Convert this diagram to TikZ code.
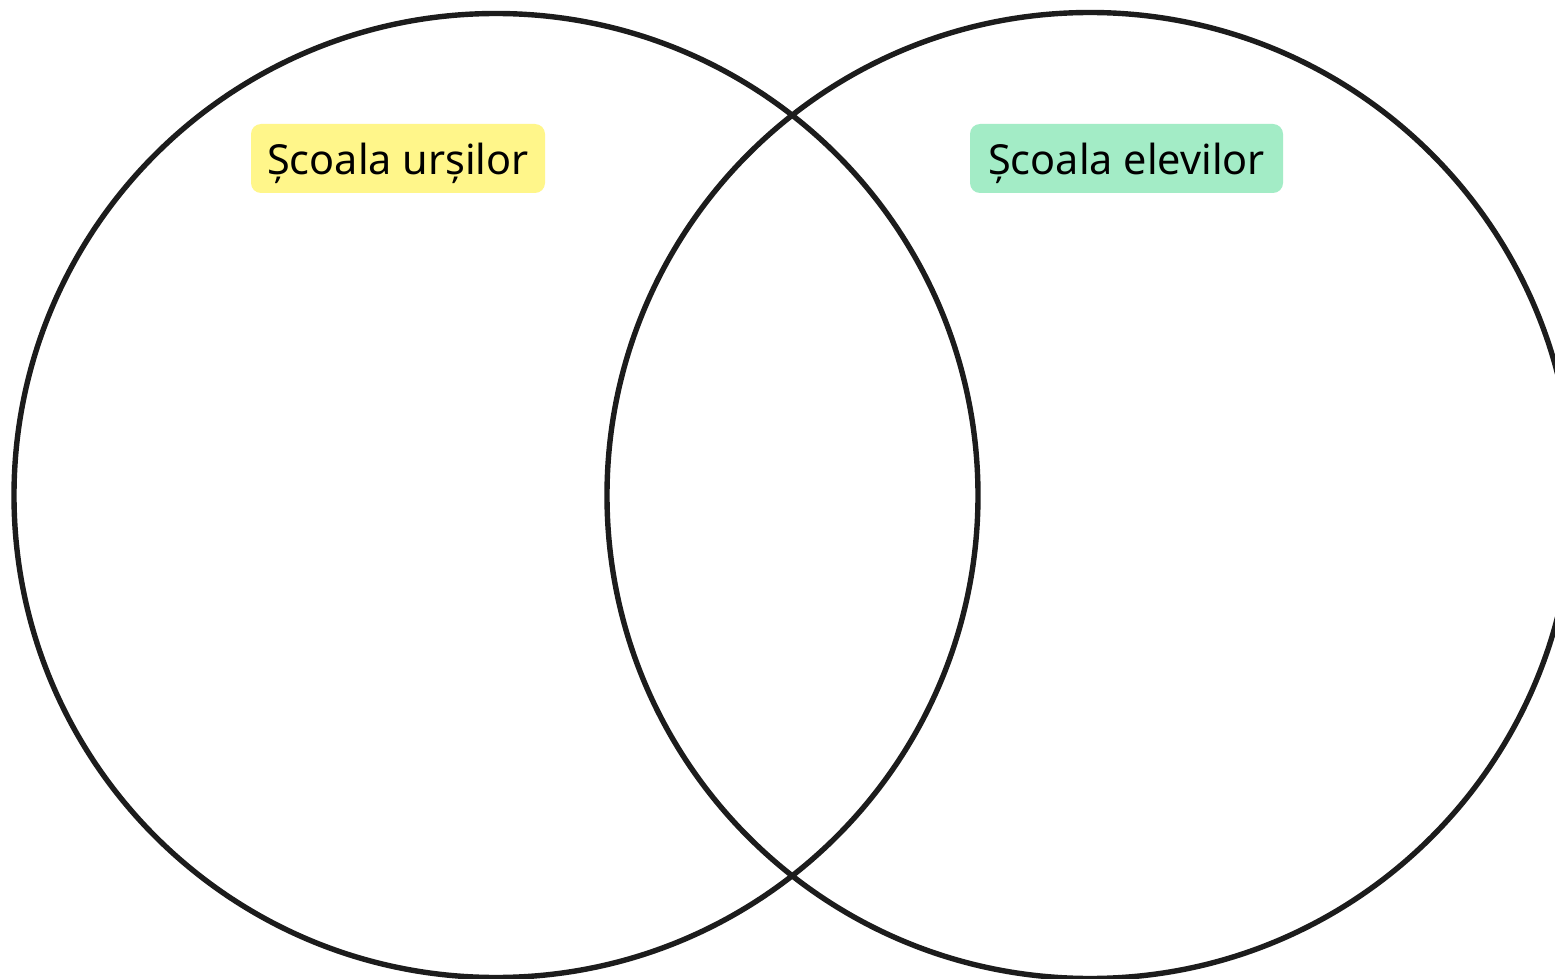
\documentclass[tikz,border=0pt]{standalone}
\usepackage{fontspec}
\setmainfont{Noto Sans}
\definecolor{ringcol}{HTML}{1C1C1C}
\definecolor{yellowlab}{HTML}{FFF68A}
\definecolor{greenlab}{HTML}{A3ECC6}
\begin{document}
\begin{tikzpicture}[x=0.5pt,y=-0.5pt,
  ring/.style={draw=ringcol,line width=2.7pt},
  tag/.style={rounded corners=5pt,inner sep=0pt,text=black,text height=16.5pt,text depth=0pt,font=\fontsize{20.7}{24}\selectfont}]
\useasboundingbox (0,0) rectangle (1555,979);
\clip (0,0) rectangle (1555,979);
\fill[white] (0,0) rectangle (1555,979);
\node[ring,circle,minimum size=964*0.5pt,inner sep=0pt] (left) at (496,495.5) {};
\node[ring,circle,minimum size=966*0.5pt,inner sep=0pt] (right) at (1090,495.5) {};
\node[tag,fill=yellowlab,minimum width=294*0.5pt,minimum height=69*0.5pt] (ursi) at (398,158.5) {Școala urșilor};
\node[tag,fill=greenlab,minimum width=313*0.5pt,minimum height=69*0.5pt] (elevi) at (1126.5,158.5) {Școala elevilor};
\end{tikzpicture}
\end{document}
